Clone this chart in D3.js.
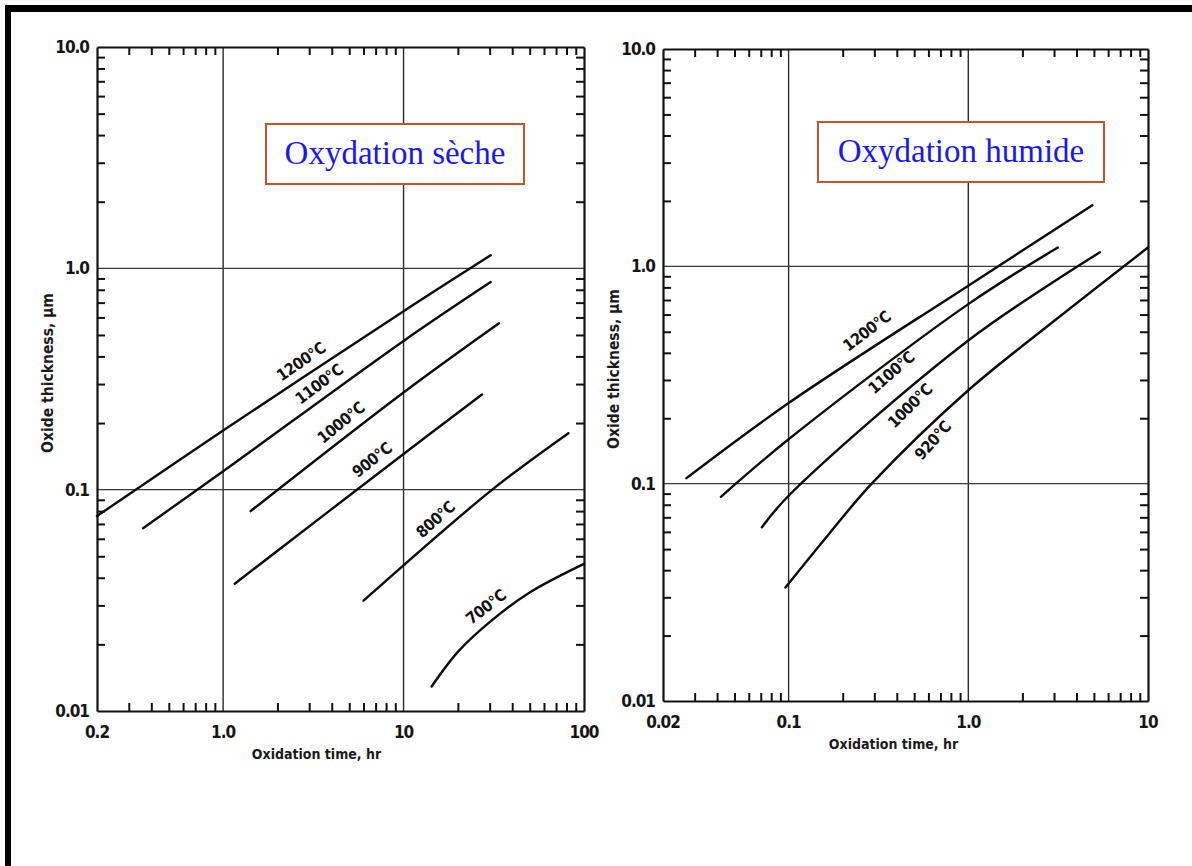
<!DOCTYPE html>
<html>
<head>
<meta charset="utf-8">
<script src="https://cdn.jsdelivr.net/npm/d3@7/dist/d3.min.js"></script>
<style>
    body { margin: 0; background: #fff; }
    svg { display: block; }
    .tick-label { font-family: 'DejaVu Sans Condensed', sans-serif; font-weight: bold; font-size: 17px; letter-spacing: -1px; fill: #151515; }
    .axis-title { font-family: 'DejaVu Sans Condensed', sans-serif; font-weight: bold; font-size: 14px; fill: #1a1a1a; }
    .axis-title.vertical { font-size: 15.5px; }
    .curve-label { font-family: 'DejaVu Sans Condensed', sans-serif; font-weight: bold; font-size: 16px; letter-spacing: -0.5px; fill: #111; }
    .box-text { font-family: 'Liberation Serif', serif; font-size: 33px; fill: #1a1ae6; }
</style>
</head>
<body>
<svg id="canvas" width="1192" height="866"></svg>
<script>
/** Thickness axis (shared by both panels) */
const thicknessTicks = [0.01, 0.1, 1, 10];
const thicknessLabels = ['0.01', '0.1', '1.0', '10.0'];

/** Dry oxidation - time axis */
const dryTimeTicks = [0.2, 1, 10, 100];
const dryTimeLabels = ['0.2', '1.0', '10', '100'];

/** Dry oxidation curves: [time hr, thickness um] */
const dryNames = ['1200°C', '1100°C', '1000°C', '900°C', '800°C', '700°C'];
const dry1200 = [[0.2, 0.076], [1, 0.185], [10, 0.64], [30.4, 1.145]];
const dry1100 = [[0.36, 0.067], [1, 0.121], [10, 0.47], [30.4, 0.867]];
const dry1000 = [[1.42, 0.080], [10, 0.275], [33.8, 0.565]];
const dry900 = [[1.16, 0.0376], [10, 0.145], [27.2, 0.269]];
const dry800 = [[6, 0.0315], [31, 0.1], [82, 0.18]];
const dry700 = [[14.3, 0.0129], [20, 0.0185], [30, 0.0252], [50, 0.0343], [100, 0.0462]];
const dryLabelAt = [3, 3.8, 5.05, 7.5, 17, 32];

/** Wet oxidation - time axis */
const wetTimeTicks = [0.02, 0.1, 1, 10];
const wetTimeLabels = ['0.02', '0.1', '1.0', '10'];

/** Wet oxidation curves: [time hr, thickness um] */
const wetNames = ['1200°C', '1100°C', '1000°C', '920°C'];
const wet1200 = [[0.027, 0.106], [0.1, 0.235], [1, 0.815], [4.9, 1.91]];
const wet1100 = [[0.042, 0.087], [0.1, 0.16], [1, 0.67], [3.15, 1.22]];
const wet1000 = [[0.071, 0.063], [0.1, 0.088], [1, 0.456], [5.4, 1.16]];
const wet920 = [[0.096, 0.0333], [0.17, 0.0595], [0.29, 0.1], [1, 0.269], [3, 0.56], [10, 1.22]];
const wetLabelAt = [0.312, 0.347, 0.428, 0.569];

let canvas = d3.select('#canvas');

/** Outer black frame (top and left edges) */
canvas.append('rect').attr('x', 5).attr('y', 5).attr('width', 1187).attr('height', 7).attr('fill', '#000');
canvas.append('rect').attr('x', 5).attr('y', 5).attr('width', 6).attr('height', 861).attr('fill', '#000');

const isDecade = (v) => Math.abs(Math.log10(v) - Math.round(Math.log10(v))) < 1e-9;

/** Position + angle of a label along a curve */
const labelPoint = (series, t, x, y) => {
    let i = 0;
    while (i < series.length - 2 && series[i + 1][0] < t) i++;
    let a = series[i], b = series[i + 1];
    let f = (Math.log10(t) - Math.log10(a[0])) / (Math.log10(b[0]) - Math.log10(a[0]));
    let v = Math.pow(10, Math.log10(a[1]) + f * (Math.log10(b[1]) - Math.log10(a[1])));
    let angle = Math.atan2(y(b[1]) - y(a[1]), x(b[0]) - x(a[0])) * 180 / Math.PI;
    return { px: x(t), py: y(v), angle: angle };
};

/** Draw one panel */
const drawPanel = (cfg) => {
    let x = d3.scaleLog().domain([cfg.timeTicks[0], cfg.timeTicks[cfg.timeTicks.length - 1]]).range(cfg.xRange);
    let y = d3.scaleLog().domain([0.01, 10]).range(cfg.yRange);
    let [x0, x1] = cfg.xRange;
    let [y0, y1] = cfg.yRange;

    let g = canvas.append('g');

    /** Grid lines at inner decades */
    g.selectAll('.vgrid')
        .data(cfg.timeTicks.slice(1, -1))
        .enter()
        .append('line')
        .attr('x1', (d) => x(d)).attr('x2', (d) => x(d))
        .attr('y1', y1).attr('y2', y0)
        .attr('stroke', '#2a2a2a').attr('stroke-width', 1.4);

    g.selectAll('.hgrid')
        .data(thicknessTicks.slice(1, -1))
        .enter()
        .append('line')
        .attr('x1', x0).attr('x2', x1)
        .attr('y1', (d) => y(d)).attr('y2', (d) => y(d))
        .attr('stroke', '#3a3a3a').attr('stroke-width', 1.4);

    /** Minor ticks pointing inwards */
    let minorX = x.ticks().filter((v) => !isDecade(v) && v > x.domain()[0] && v < x.domain()[1]);
    let minorY = y.ticks().filter((v) => !isDecade(v));

    let axes = [
        [d3.axisBottom(x).tickValues(minorX), `translate(0,${y0})`],
        [d3.axisTop(x).tickValues(minorX), `translate(0,${y1})`],
        [d3.axisLeft(y).tickValues(minorY), `translate(${x0},0)`],
        [d3.axisRight(y).tickValues(minorY), `translate(${x1},0)`]
    ];
    axes.forEach(([axis, tr]) => {
        let a = g.append('g')
            .attr('transform', tr)
            .call(axis.tickSize(-8).tickSizeOuter(0).tickFormat(''));
        a.select('.domain').attr('stroke', '#111').attr('stroke-width', 2.2);
        a.selectAll('.tick line').attr('stroke', '#111').attr('stroke-width', 2);
    });

    /** Tick labels */
    g.selectAll('.ylab')
        .data(thicknessTicks)
        .enter()
        .append('text')
        .attr('class', 'tick-label')
        .attr('x', x0 - 8)
        .attr('y', (d) => y(d))
        .attr('dy', '0.36em')
        .attr('text-anchor', 'end')
        .text((d, i) => thicknessLabels[i]);

    g.selectAll('.xlab')
        .data(cfg.timeTicks)
        .enter()
        .append('text')
        .attr('class', 'tick-label')
        .attr('x', (d) => x(d))
        .attr('y', y0 + 21)
        .attr('dy', '0.36em')
        .attr('text-anchor', 'middle')
        .text((d, i) => cfg.timeLabels[i]);

    /** Axis titles */
    g.append('text')
        .attr('class', 'axis-title')
        .attr('x', (x0 + x1) / 2 + cfg.titleShift)
        .attr('y', y0 + 43)
        .attr('dy', '0.36em')
        .attr('text-anchor', 'middle')
        .text('Oxidation time, hr');

    g.append('text')
        .attr('class', 'axis-title vertical')
        .attr('transform', `translate(${x0 - 50},${(y0 + y1) / 2 - 6}) rotate(-90)`)
        .attr('dy', '0.36em')
        .attr('text-anchor', 'middle')
        .text('Oxide thickness, µm');

    /** Oxide growth curves */
    let line = d3.line()
        .x((d) => x(d[0]))
        .y((d) => y(d[1]))
        .curve(d3.curveCatmullRom.alpha(0.5));

    g.selectAll('.curve')
        .data(cfg.curves)
        .enter()
        .append('path')
        .attr('d', line)
        .attr('fill', 'none')
        .attr('stroke', '#0c0c0c')
        .attr('stroke-width', 2.4)
        .attr('stroke-linecap', 'round');

    cfg.curves.forEach((series, i) => {
        let p = labelPoint(series, cfg.labelAt[i], x, y);
        g.append('text')
            .attr('class', 'curve-label')
            .attr('transform', `translate(${p.px},${p.py}) rotate(${p.angle - cfg.labelTilt})`)
            .attr('dy', cfg.labelDy[i])
            .attr('text-anchor', 'middle')
            .text(cfg.names[i]);
    });

    /** Title box */
    g.append('rect')
        .attr('x', cfg.box[0]).attr('y', cfg.box[1])
        .attr('width', cfg.box[2]).attr('height', cfg.box[3])
        .attr('fill', '#fff')
        .attr('stroke', '#c4542c')
        .attr('stroke-width', 2);

    g.append('text')
        .attr('class', 'box-text')
        .attr('x', cfg.box[0] + cfg.box[2] / 2)
        .attr('y', cfg.box[1] + cfg.box[3] / 2 + 10)
        .attr('text-anchor', 'middle')
        .text(cfg.title);
};

drawPanel({
    timeTicks: dryTimeTicks,
    timeLabels: dryTimeLabels,
    xRange: [97, 584],
    yRange: [711, 47],
    curves: [dry1200, dry1100, dry1000, dry900, dry800, dry700],
    names: dryNames,
    labelAt: dryLabelAt,
    labelDy: [-9, -9, -9, -9, -9, -9],
    labelTilt: 1,
    titleShift: -24,
    box: [266, 124, 258, 60],
    title: 'Oxydation sèche'
});

drawPanel({
    timeTicks: wetTimeTicks,
    timeLabels: wetTimeLabels,
    xRange: [663, 1148],
    yRange: [701, 49],
    curves: [wet1200, wet1100, wet1000, wet920],
    names: wetNames,
    labelAt: wetLabelAt,
    labelDy: [-12, 14, 17, 17],
    labelTilt: 4,
    titleShift: -12,
    box: [818, 122, 286, 60],
    title: 'Oxydation humide'
});
</script>
</body>
</html>
